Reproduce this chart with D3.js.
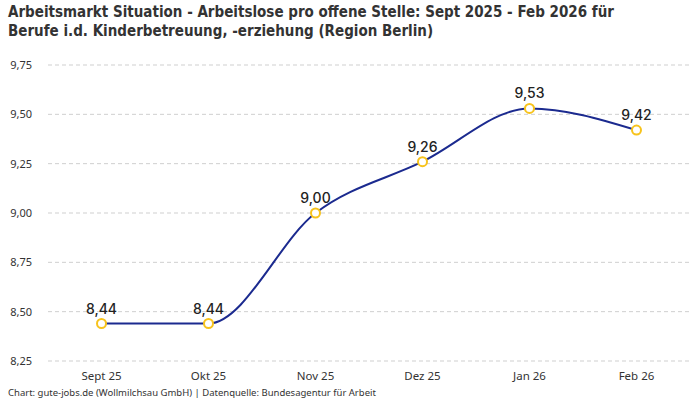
<!DOCTYPE html>
<html>
<head>
<meta charset="utf-8">
<script src="https://cdn.jsdelivr.net/npm/d3@7"></script>
<style>
  body { margin: 0; background: #fff; }
  svg { display: block; }
</style>
</head>
<body>
<div id="chart"></div>
<script>
// data
const months = ["Sept 25", "Okt 25", "Nov 25", "Dez 25", "Jan 26", "Feb 26"];
const values = [8.44, 8.44, 9.00, 9.26, 9.53, 9.42];
const yTicks = [8.25, 8.50, 8.75, 9.00, 9.25, 9.50, 9.75];
const titleLines = [
  "Arbeitsmarkt Situation - Arbeitslose pro offene Stelle: Sept 2025 - Feb 2026 für",
  "Berufe i.d. Kinderbetreuung, -erziehung (Region Berlin)"
];
const footer = "Chart: gute-jobs.de (Wollmilchsau GmbH) | Datenquelle: Bundesagentur für Arbeit";

const WIDTH = 700, HEIGHT = 400;
const condensed = "'DejaVu Sans Condensed', 'Roboto', sans-serif";
const fmt = v => d3.format(".2f")(v).replace(".", ",");

const svg = d3.select("#chart").append("svg")
  .attr("width", WIDTH)
  .attr("height", HEIGHT);

const x = d3.scalePoint().domain(months).range([48, 690]).padding(0.5);
const y = d3.scaleLinear().domain([8.25, 9.75]).range([361, 65]);

// title
svg.append("g").selectAll("text")
  .data(titleLines)
  .join("text")
  .attr("x", 8)
  .attr("y", (d, i) => 17 + i * 19)
  .style("font-family", condensed)
  .style("font-weight", "bold")
  .style("font-size", "15px")
  .style("fill", "#333")
  .text(d => d);

// grid
svg.append("g").selectAll("line")
  .data(yTicks)
  .join("line")
  .attr("x1", 48).attr("x2", 690)
  .attr("y1", d => y(d)).attr("y2", d => y(d))
  .attr("stroke", "#cfcfcf")
  .attr("stroke-dasharray", "4,3");

// y axis labels
svg.append("g").selectAll("text")
  .data(yTicks)
  .join("text")
  .attr("x", 32)
  .attr("y", d => y(d) + 4)
  .attr("text-anchor", "end")
  .style("font-family", "'Noto Sans', sans-serif")
  .style("font-size", "11px")
  .style("fill", "#333")
  .text(fmt);

// x axis labels
svg.append("g").selectAll("text")
  .data(months)
  .join("text")
  .attr("x", d => x(d))
  .attr("y", 380)
  .attr("text-anchor", "middle")
  .style("font-family", "'Noto Sans', sans-serif")
  .style("font-size", "11.5px")
  .style("fill", "#333")
  .text(d => d);

// line
const line = d3.line()
  .x((d, i) => x(months[i]))
  .y(d => y(d))
  .curve(d3.curveMonotoneX);

svg.append("path")
  .datum(values)
  .attr("d", line)
  .attr("fill", "none")
  .attr("stroke", "#1b2a8f")
  .attr("stroke-width", 2);

// points
svg.append("g").selectAll("circle")
  .data(values)
  .join("circle")
  .attr("cx", (d, i) => x(months[i]))
  .attr("cy", d => y(d))
  .attr("r", 4.5)
  .attr("fill", "#fff")
  .attr("stroke", "#f7c31c")
  .attr("stroke-width", 2);

// value labels
svg.append("g").selectAll("text")
  .data(values)
  .join("text")
  .attr("x", (d, i) => x(months[i]))
  .attr("y", d => y(d) - 10)
  .attr("text-anchor", "middle")
  .style("font-family", "Inter, 'Noto Sans', sans-serif")
  .style("font-weight", 500)
  .style("font-size", "14px")
  .style("fill", "#222")
  .text(fmt);

// footer
svg.append("text")
  .attr("x", 8)
  .attr("y", 396)
  .style("font-family", "'Noto Sans', sans-serif")
  .style("font-size", "9.5px")
  .style("fill", "#333")
  .text(footer);
</script>
</body>
</html>
